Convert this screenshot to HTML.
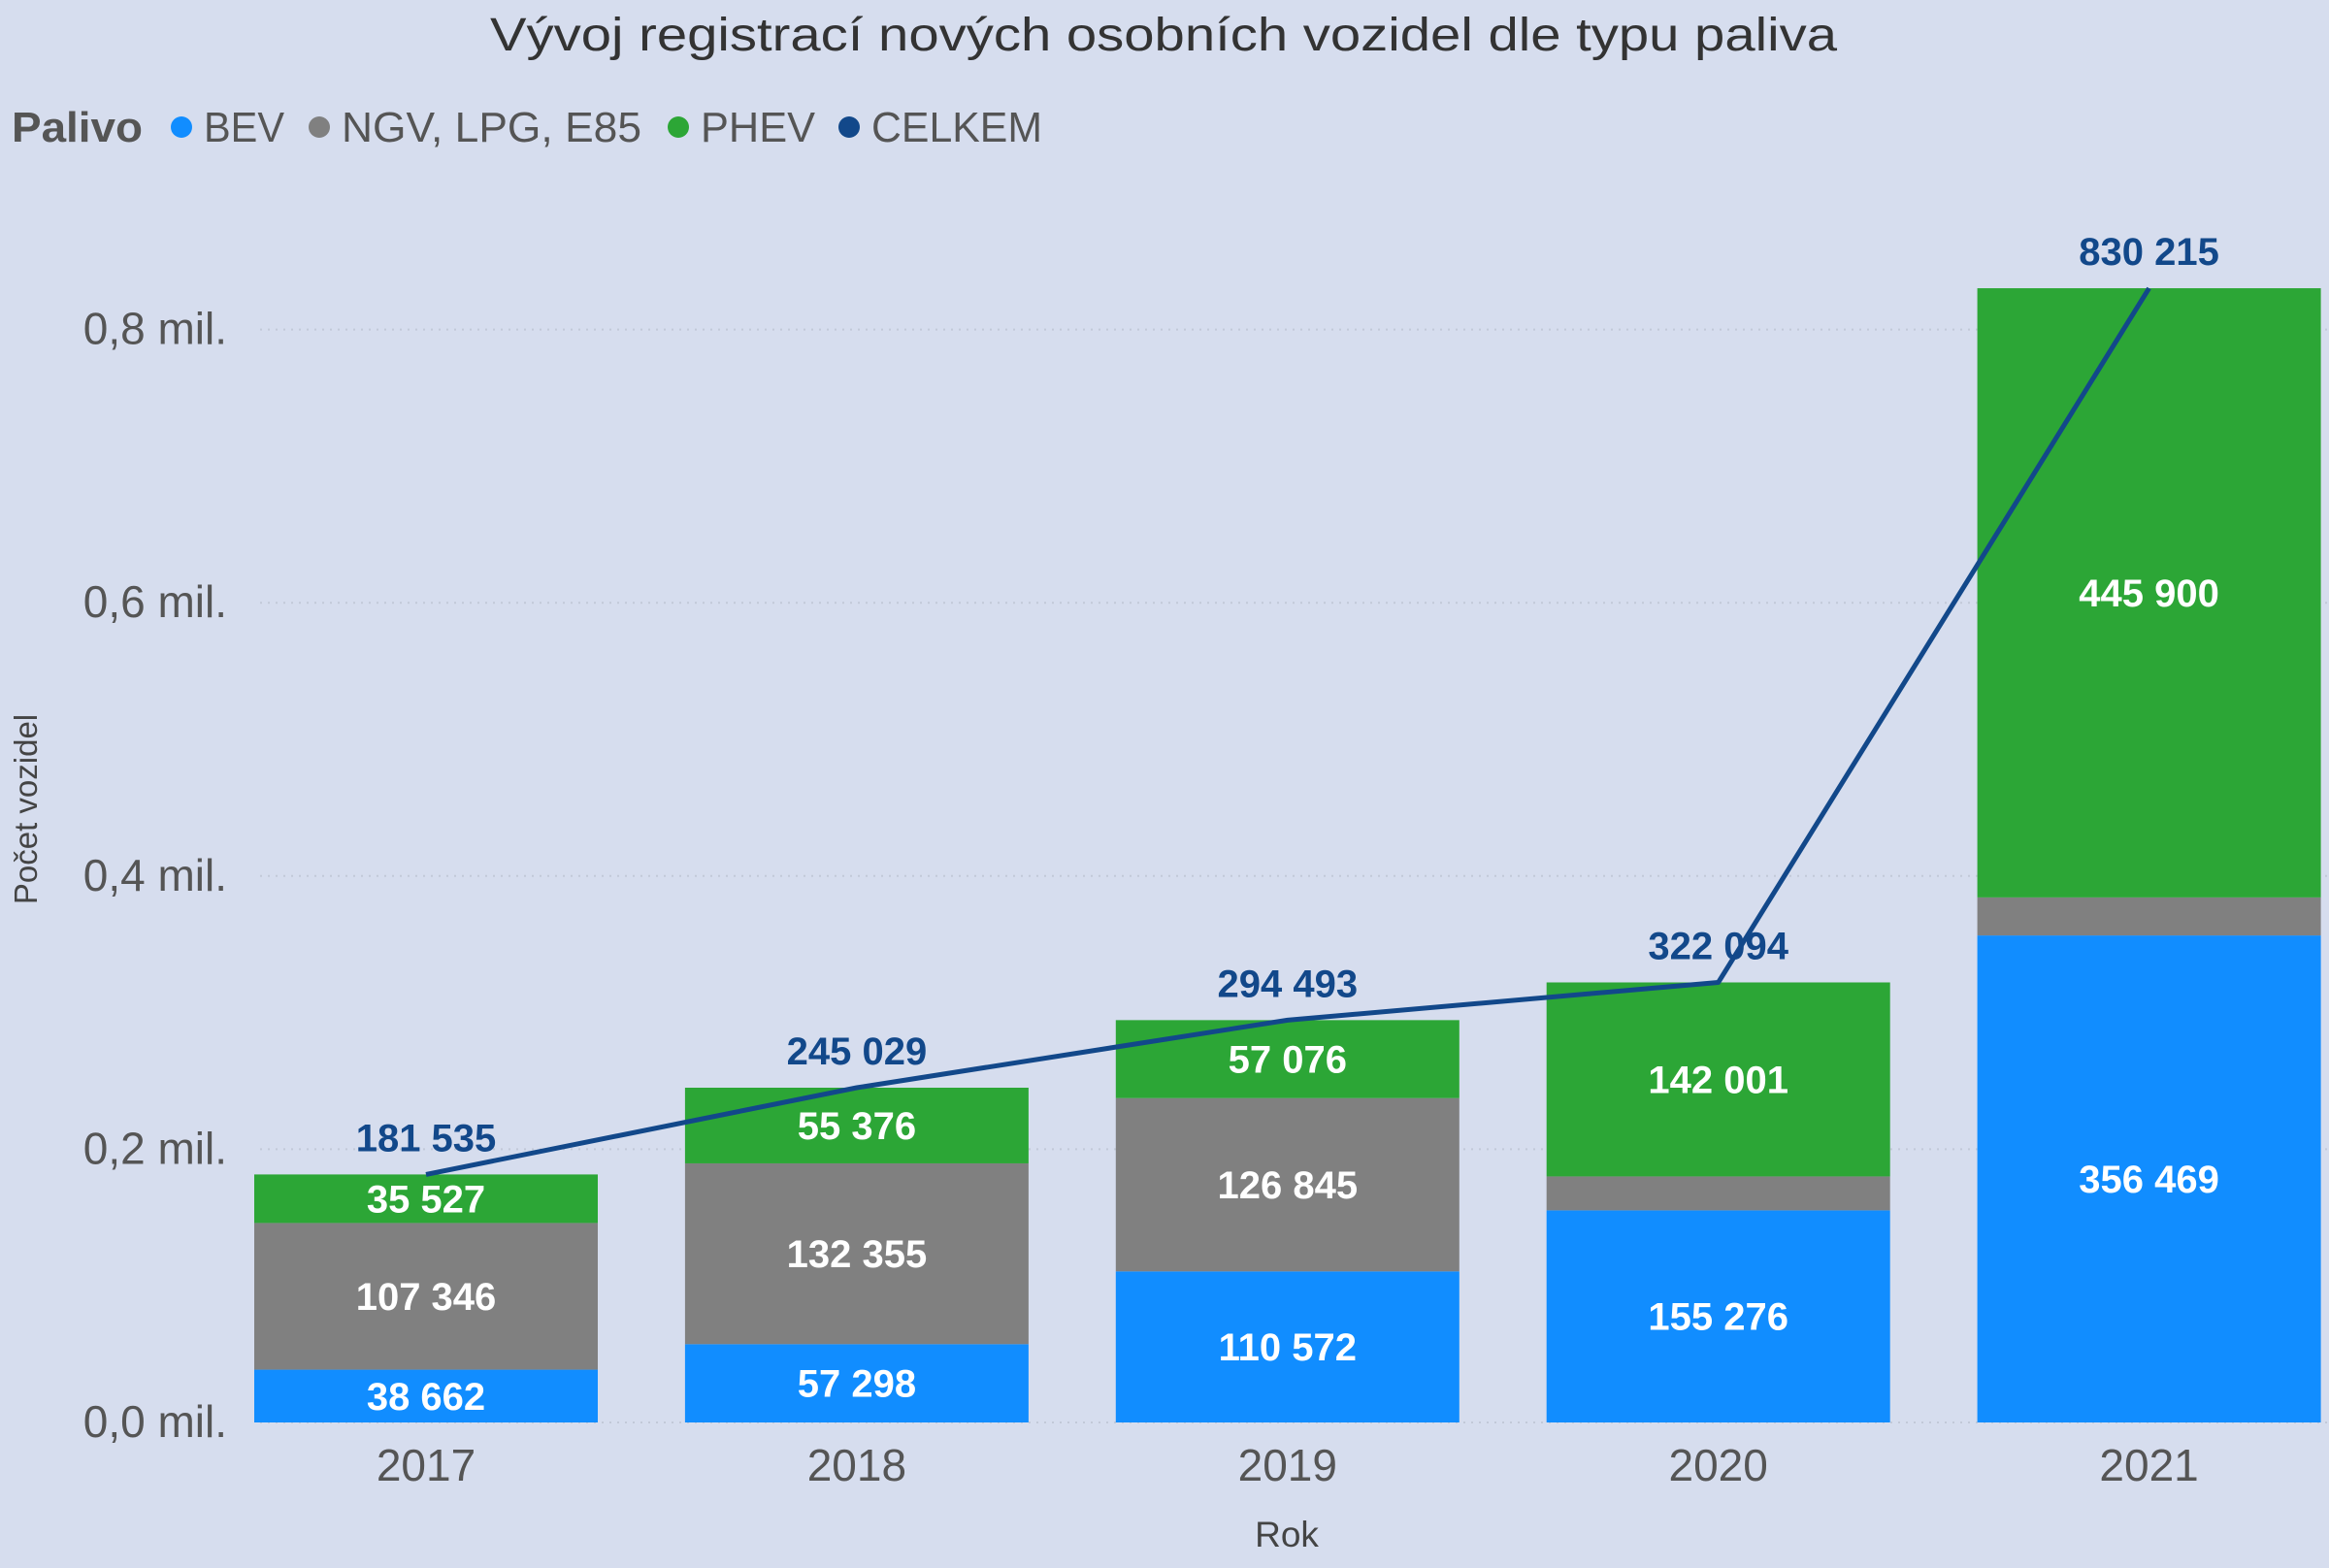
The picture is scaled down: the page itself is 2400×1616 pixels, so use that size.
<!DOCTYPE html>
<html><head><meta charset="utf-8"><style>
html,body{margin:0;padding:0;background:#D6DDEE;}
svg{display:block;font-family:"Liberation Sans",sans-serif;}
</style></head><body>
<svg id="chart" width="2400" height="1616" viewBox="0 0 2400 1616" xmlns="http://www.w3.org/2000/svg">
<rect width="2400" height="1616" fill="#D6DDEE"/>
<text x="1199" y="52" font-size="48" fill="#333" text-anchor="middle" textLength="1388" lengthAdjust="spacingAndGlyphs">Vývoj registrací nových osobních vozidel dle typu paliva</text>
<g>
<text x="12" y="146" font-size="44" font-weight="bold" fill="#555" textLength="135" lengthAdjust="spacingAndGlyphs">Palivo</text>
<g><circle cx="187" cy="131" r="11" fill="#118DFF"/><text x="210" y="146" font-size="44" fill="#555" textLength="83" lengthAdjust="spacingAndGlyphs">BEV</text></g>
<g><circle cx="329" cy="131" r="11" fill="#808080"/><text x="352" y="146" font-size="44" fill="#555" textLength="309" lengthAdjust="spacingAndGlyphs">NGV, LPG, E85</text></g>
<g><circle cx="699" cy="131" r="11" fill="#2CA636"/><text x="722" y="146" font-size="44" fill="#555" textLength="118" lengthAdjust="spacingAndGlyphs">PHEV</text></g>
<g><circle cx="875" cy="131" r="11" fill="#12488A"/><text x="898" y="146" font-size="44" fill="#555" textLength="176" lengthAdjust="spacingAndGlyphs">CELKEM</text></g>
</g>
<text transform="translate(38,834) rotate(-90)" font-size="33" fill="#444" text-anchor="middle">Počet vozidel</text>
<text x="1326" y="1594" font-size="37" fill="#444" text-anchor="middle">Rok</text>
<g id="grid"></g><g id="bars"></g><g id="line"></g><g id="labels"></g>
</svg>
<script>
const categories = ["2017","2018","2019","2020","2021"];
const bev = [38662, 57298, 110572, 155276, 356469];
const ngv = [107346, 132355, 126845, 24817, 27846];
const phev = [35527, 55376, 57076, 142001, 445900];
const total = [181535, 245029, 294493, 322094, 830215];
const yTicks = [0, 200000, 400000, 600000, 800000];
const yTickLabels = ["0,0 mil.","0,2 mil.","0,4 mil.","0,6 mil.","0,8 mil."];
const showNgvLabel = [true, true, true, false, false];

const NS = "http://www.w3.org/2000/svg";
const y0 = 1466, pxPerUnit = 281.6/200000;
const yScale = v => y0 - v*pxPerUnit;
const barLeft0 = 262, step = 443.9, barW = 354;
const xLeft = i => barLeft0 + i*step;
const xCenter = i => xLeft(i) + barW/2;
const fmt = v => String(v).replace(/\B(?=(\d{3})+(?!\d))/g, " ");
function mk(tag, attrs, parent){const e=document.createElementNS(NS,tag);for(const k in attrs)e.setAttribute(k,attrs[k]);parent.appendChild(e);return e;}
const grid=document.getElementById('grid'), bars=document.getElementById('bars'), line=document.getElementById('line'), labels=document.getElementById('labels');

yTicks.forEach((t,i)=>{
  const g=mk('line',{x1:268,x2:2400,y1:yScale(t),y2:yScale(t),stroke:'#C2C9D8','stroke-width':2,'stroke-dasharray':'2 6'},grid);
  
  
  const tx=mk('text',{x:234,y:yScale(t)+15,'font-size':46,fill:'#555','text-anchor':'end'},grid);
  tx.textContent=yTickLabels[i];
  
  
});

const series=[{d:bev,c:'#118DFF',n:'bev'},{d:ngv,c:'#808080',n:'ngv'},{d:phev,c:'#2CA636',n:'phev'}];
categories.forEach((cat,i)=>{
  let base=0;
  series.forEach((s,si)=>{
    const v=s.d[i];
    const r=mk('rect',{x:xLeft(i),y:yScale(base+v),width:barW,height:v*pxPerUnit,fill:s.c},bars);
    
    
    if(si!==1||showNgvLabel[i]){
      const t=mk('text',{x:xCenter(i),y:yScale(base+v/2)+14,'font-size':40,'font-weight':'bold',fill:'#fff','text-anchor':'middle'},labels);
      t.textContent=fmt(v);
      
      
    }
    base+=v;
  });
  const xl=mk('text',{x:xCenter(i),y:1526,'font-size':46,fill:'#555','text-anchor':'middle'},labels);
  xl.textContent=cat;
  
  
  const tl=mk('text',{x:xCenter(i),y:yScale(total[i])-24,'font-size':40,'font-weight':'bold',fill:'#12488A','text-anchor':'middle'},labels);
  tl.textContent=fmt(total[i]);
  
  
});
const pl=mk('polyline',{points:total.map((v,i)=>xCenter(i)+','+yScale(v)).join(' '),fill:'none',stroke:'#12488A','stroke-width':5,'stroke-linejoin':'round'},line);


</script>
</body></html>
